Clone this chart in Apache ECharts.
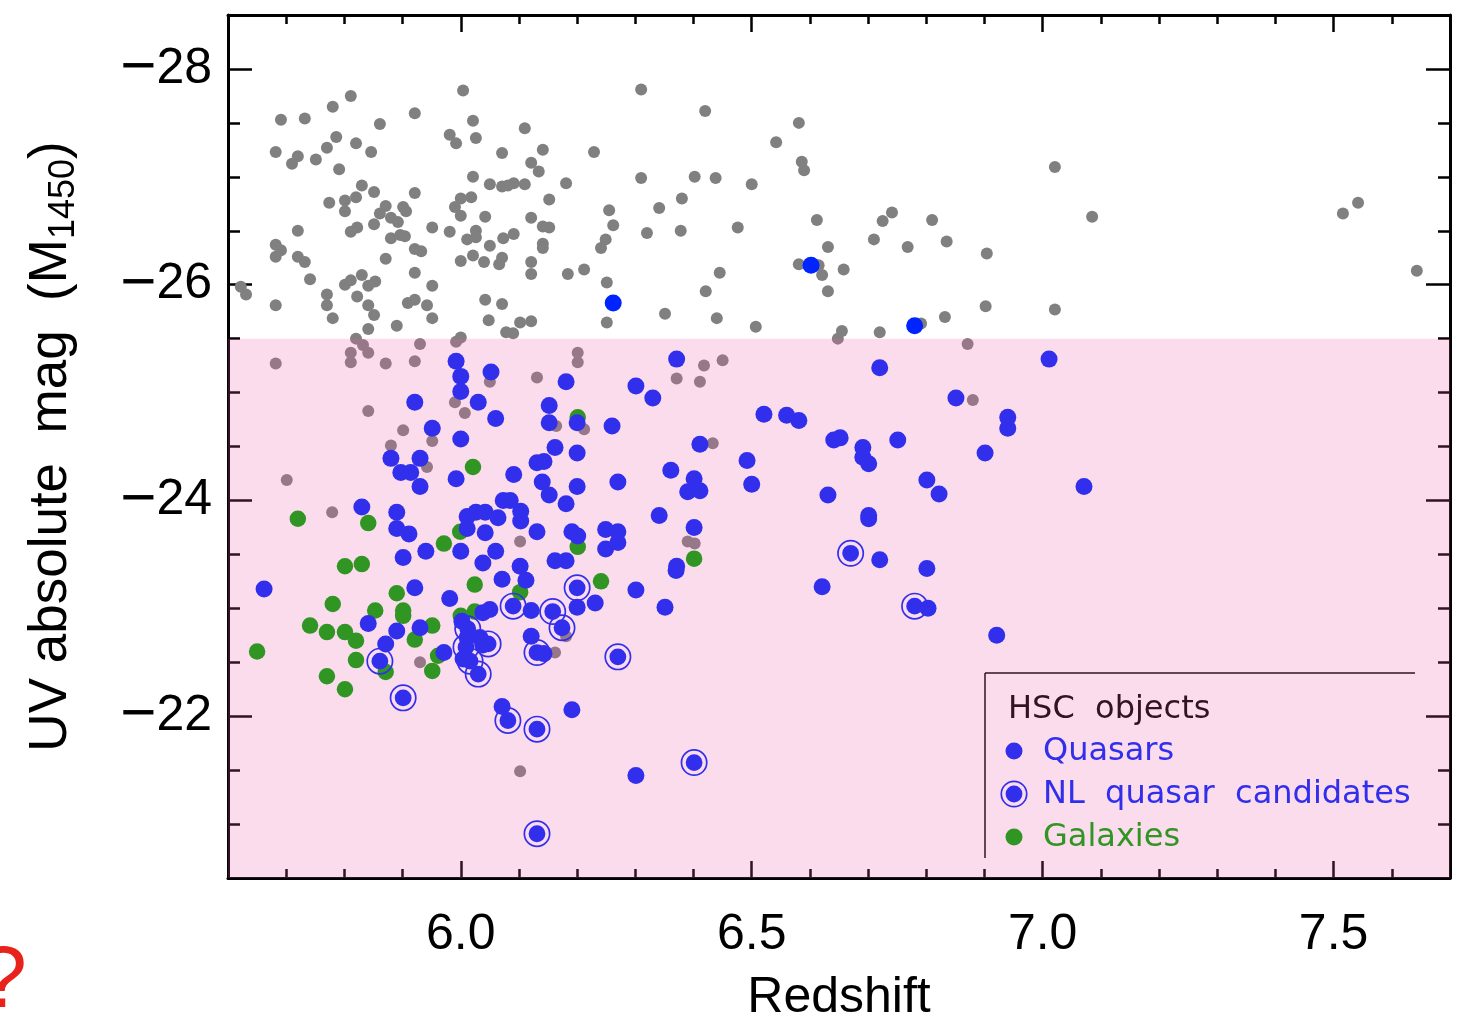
<!DOCTYPE html>
<html><head><meta charset="utf-8">
<script src="https://cdn.jsdelivr.net/npm/echarts@6/dist/echarts.min.js"></script>
<style>html,body{margin:0;padding:0;background:#fff}#chart{width:1460px;height:1019px}</style>
</head><body><div id="chart"></div>
<script>
const X_MIN = 5.6, X_MAX = 7.7, Y_MIN = -28.5, Y_MAX = -20.5;
const PINK_LIMIT = -25.5;
const xMajorTicks = [6.0, 6.5, 7.0, 7.5];
const xTickLabels = ['6.0', '6.5', '7.0', '7.5'];
const yMajorTicks = [-28, -26, -24, -22];
const yTickLabels = ['−28', '−26', '−24', '−22'];
const legendLabels = ['HSC  objects', 'Quasars', 'NL  quasar  candidates', 'Galaxies'];

const grayObjects = [
[5.811,-27.75],[5.780,-27.65],[6.004,-27.80],[5.921,-27.59],[5.691,-27.53],[5.732,-27.54],[5.861,-27.49],[6.021,-27.52],[5.786,-27.37],[5.820,-27.31],[5.981,-27.39],[5.992,-27.31],[6.026,-27.36],[5.682,-27.23],[5.720,-27.19],[5.710,-27.12],[5.751,-27.16],[5.770,-27.27],[5.846,-27.23],[5.791,-27.07],[6.021,-27.00],[5.830,-26.92],[5.851,-26.86],[5.921,-26.85],[5.820,-26.81],[5.774,-26.76],[5.801,-26.78],[5.801,-26.68],[5.871,-26.73],[5.861,-26.66],[5.901,-26.72],[5.906,-26.68],[5.880,-26.62],[5.892,-26.58],[5.990,-26.72],[6.000,-26.80],[6.018,-26.81],[6.000,-26.64],[5.851,-26.56],[5.951,-26.53],[5.981,-26.49],[6.026,-26.50],[5.720,-26.50],[5.811,-26.49],[5.822,-26.53],[5.880,-26.43],[5.896,-26.46],[5.904,-26.45],[6.011,-26.42],[6.026,-26.44],[5.682,-26.37],[5.691,-26.32],[5.682,-26.26],[5.720,-26.26],[5.732,-26.21],[5.871,-26.24],[5.921,-26.33],[5.932,-26.31],[6.000,-26.22],[6.021,-26.27],[5.741,-26.05],[5.801,-26.00],[5.811,-26.04],[5.830,-26.09],[5.841,-25.99],[5.853,-26.03],[5.921,-26.11],[5.951,-25.99],[5.622,-25.98],[5.631,-25.91],[5.682,-25.81],[5.770,-25.91],[5.770,-25.81],[5.780,-25.69],[5.822,-25.89],[5.841,-25.81],[5.851,-25.72],[5.909,-25.83],[5.921,-25.86],[5.942,-25.81],[5.951,-25.69],[5.841,-25.59],[5.890,-25.62],[6.000,-25.51],[5.820,-25.50],
[6.310,-27.81],[6.420,-27.61],[6.110,-27.45],[6.071,-27.22],[6.141,-27.25],[6.229,-27.23],[6.121,-27.13],[6.134,-27.05],[6.050,-26.93],[6.071,-26.91],[6.081,-26.92],[6.091,-26.94],[6.110,-26.93],[6.181,-26.94],[6.310,-26.99],[6.402,-27.00],[6.438,-26.99],[6.152,-26.79],[6.255,-26.69],[6.341,-26.71],[6.380,-26.80],[6.042,-26.63],[6.121,-26.62],[6.141,-26.54],[6.152,-26.53],[6.073,-26.43],[6.091,-26.47],[6.050,-26.36],[6.141,-26.38],[6.141,-26.34],[6.262,-26.55],[6.249,-26.42],[6.241,-26.34],[6.320,-26.48],[6.378,-26.50],[6.040,-26.21],[6.066,-26.19],[6.071,-26.25],[6.121,-26.21],[6.121,-26.10],[6.184,-26.10],[6.212,-26.14],[6.251,-26.02],[6.445,-26.11],[6.421,-25.94],[6.042,-25.86],[6.071,-25.82],[6.048,-25.67],[6.102,-25.65],[6.121,-25.66],[6.078,-25.56],[6.090,-25.55],[6.251,-25.65],[6.351,-25.73],[6.440,-25.69],
[6.581,-27.50],[6.542,-27.32],[6.586,-27.14],[6.590,-27.06],[6.500,-26.93],[7.021,-27.09],[6.476,-26.53],[6.612,-26.60],[6.725,-26.59],[6.741,-26.67],[6.810,-26.60],[7.085,-26.63],[7.516,-26.66],[7.542,-26.76],[6.631,-26.35],[6.710,-26.42],[6.768,-26.35],[6.835,-26.40],[6.904,-26.29],[6.581,-26.19],[6.615,-26.18],[6.621,-26.09],[6.658,-26.14],[6.631,-25.94],[7.643,-26.13],[6.507,-25.61],[6.655,-25.57],[6.648,-25.50],[6.720,-25.56],[6.791,-25.64],[6.832,-25.70],[6.902,-25.80],[7.021,-25.77],[6.871,-25.45],
[5.832,-25.44],[5.841,-25.37],[5.811,-25.37],[5.811,-25.28],[5.682,-25.27],[5.871,-25.27],[5.921,-25.29],[5.930,-25.45],[5.992,-25.47],[5.990,-24.91],[6.007,-24.81],[5.841,-24.83],[5.901,-24.65],[5.880,-24.51],[5.951,-24.55],[5.942,-24.31],[5.701,-24.19],[5.779,-23.89],[6.201,-25.37],[6.201,-25.28],[6.050,-25.10],[6.131,-25.14],[6.371,-25.13],[6.418,-25.25],[6.411,-25.10],[6.450,-25.30],[6.164,-24.69],[6.212,-24.66],[6.433,-24.53],[6.102,-23.62],[6.390,-23.62],[6.402,-23.60],[6.880,-24.93],[5.930,-22.50],[6.162,-22.59],[6.181,-22.74],[6.102,-21.49]
];

const galaxies = [
[6.021,-24.31],[5.720,-23.83],[5.841,-23.79],[5.999,-23.71],[5.971,-23.60],[5.801,-23.39],[5.830,-23.41],[6.201,-24.77],[6.201,-23.57],[6.401,-23.46],[5.780,-23.04],[5.890,-23.14],[5.853,-22.98],[5.901,-22.98],[5.901,-22.93],[5.741,-22.84],[5.770,-22.78],[5.801,-22.78],[5.820,-22.70],[5.951,-22.84],[5.921,-22.71],[5.650,-22.60],[5.820,-22.52],[5.871,-22.41],[5.951,-22.42],[5.961,-22.56],[5.770,-22.37],[5.801,-22.25],[6.024,-23.22],[6.000,-22.93],[6.024,-22.97],[6.241,-23.25],[6.102,-23.15]
];

const quasars = [
[5.992,-25.29],[6.000,-25.15],[6.000,-25.01],[5.921,-24.91],[6.030,-24.91],[5.951,-24.67],[6.000,-24.57],[5.880,-24.39],[5.930,-24.39],[5.897,-24.26],[5.914,-24.26],[5.930,-24.13],[5.992,-24.20],[5.830,-23.94],[5.890,-23.89],[5.890,-23.74],[5.911,-23.69],[6.011,-23.85],[6.026,-23.89],[6.011,-23.74],[5.940,-23.53],[6.000,-23.53],[5.901,-23.47],[6.038,-23.42],
[6.052,-25.19],[6.181,-25.10],[6.371,-25.31],[6.301,-25.06],[6.330,-24.95],[6.060,-24.76],[6.152,-24.88],[6.152,-24.72],[6.200,-24.72],[6.260,-24.69],[6.162,-24.49],[6.200,-24.44],[6.131,-24.35],[6.143,-24.36],[6.411,-24.52],[6.361,-24.28],[6.401,-24.20],[6.390,-24.08],[6.411,-24.09],[6.091,-24.24],[6.140,-24.17],[6.152,-24.05],[6.200,-24.13],[6.270,-24.17],[6.181,-23.97],[6.073,-24.00],[6.085,-24.00],[6.103,-23.90],[6.103,-23.81],[6.064,-23.84],[6.042,-23.89],[6.042,-23.70],[6.131,-23.71],[6.191,-23.71],[6.201,-23.67],[6.249,-23.73],[6.270,-23.71],[6.270,-23.61],[6.249,-23.55],[6.341,-23.86],[6.401,-23.75],[6.060,-23.53],[6.102,-23.39],[6.162,-23.44],[6.181,-23.44],[6.371,-23.39],
[5.662,-23.18],[5.921,-23.19],[5.981,-23.09],[5.841,-22.86],[5.890,-22.79],[5.930,-22.82],[5.871,-22.67],[5.971,-22.59],[6.071,-23.27],[6.112,-23.26],[6.370,-23.35],[6.301,-23.17],[6.351,-23.01],[6.121,-22.98],[6.200,-23.01],[6.231,-23.05],[6.121,-22.74],[6.143,-22.58],[6.038,-22.66],[6.071,-22.09],[6.191,-22.06],[6.301,-21.45],[6.050,-22.99],[6.011,-22.73],[6.038,-22.96],[6.033,-22.73],[6.002,-22.88],[6.004,-22.53],
[6.720,-25.23],[7.011,-25.31],[6.851,-24.95],[6.521,-24.80],[6.560,-24.79],[6.581,-24.74],[6.641,-24.56],[6.652,-24.58],[6.691,-24.49],[6.691,-24.40],[6.701,-24.34],[6.751,-24.56],[6.940,-24.77],[6.940,-24.67],[6.901,-24.44],[6.492,-24.37],[6.500,-24.15],[6.631,-24.05],[6.801,-24.19],[6.822,-24.06],[7.071,-24.13],[6.701,-23.86],[6.701,-23.83],[6.720,-23.45],[6.801,-23.37],[6.621,-23.20],[6.803,-23.00],[6.921,-22.75],
[6.262,-25.83],[6.602,-26.18],[6.780,-25.62]
];

const nlCandidates = [
[5.861,-22.51],[5.901,-22.17],[6.012,-22.81],[6.009,-22.64],[6.016,-22.51],[6.047,-22.67],[6.030,-22.39],[6.090,-23.02],[6.158,-22.97],[6.174,-22.82],[6.200,-23.19],[6.131,-22.59],[6.270,-22.55],[6.081,-21.96],[6.131,-21.88],[6.131,-20.91],[6.401,-21.57],[6.670,-23.51],[6.780,-23.02]
];

const BLUE = 'rgb(0,36,255)', GREEN = 'rgb(0,165,0)', GRAY = 'rgb(128,128,128)';
const OVERLAY = 'rgba(231,90,166,0.213)';
const AXIS_FONT = '"Liberation Sans", Arial, sans-serif';
const LEG_FONT = '"DejaVu Sans", sans-serif';
const NL_PATH = 'path://M27 13.5A13.5 13.5 0 1 1 0 13.5A13.5 13.5 0 1 1 27 13.5ZM25.3 13.5A11.8 11.8 0 1 0 1.7 13.5A11.8 11.8 0 1 0 25.3 13.5ZM21.9 13.5A8.4 8.4 0 1 1 5.1 13.5A8.4 8.4 0 1 1 21.9 13.5Z';

function nearestIdx(arr, v) { let b = 0; for (let i = 1; i < arr.length; i++) if (Math.abs(arr[i] - v) < Math.abs(arr[b] - v)) b = i; return b; }

const lineSt = { color: '#000', width: 3 };
const tickSt = { color: '#000', width: 2.5 };
function minorAxis(dim, pos) {
  const a = { type: 'value', position: pos, gridIndex: 0,
    axisLine: { show: true, onZero: false, lineStyle: lineSt },
    axisTick: { show: true, inside: true, length: dim === 'x' ? 9 : 12, lineStyle: tickSt },
    axisLabel: { show: false }, splitLine: { show: false } };
  if (dim === 'x') { a.min = X_MIN; a.max = X_MAX; a.interval = 0.1; }
  else { a.min = Y_MIN; a.max = Y_MAX; a.interval = 0.5; a.inverse = true; }
  return a;
}
function majorAxis(dim, pos, labels) {
  const vals = dim === 'x' ? xMajorTicks : yMajorTicks;
  const txt = dim === 'x' ? xTickLabels : yTickLabels;
  const fmt = dim === 'x'
    ? (v => txt[nearestIdx(vals, v)])
    : (v => { const s = txt[nearestIdx(vals, v)]; return '{m|' + s.charAt(0) + '}{d|' + s.slice(1) + '}'; });
  const a = { type: 'value', position: pos, gridIndex: 0,
    axisLine: { show: false, onZero: false },
    axisTick: { show: true, inside: true, length: dim === 'x' ? 17 : 24, customValues: vals, lineStyle: tickSt },
    axisLabel: { show: labels, customValues: vals, formatter: fmt,
      fontSize: 50, fontFamily: AXIS_FONT, color: '#000', margin: dim === 'x' ? 32 : 16,
      rich: { m: { fontSize: 62, fontFamily: AXIS_FONT, color: '#000' }, d: { fontSize: 50, fontFamily: AXIS_FONT, color: '#000' } } },
    splitLine: { show: false } };
  if (dim === 'x') { a.min = X_MIN; a.max = X_MAX; }
  else { a.min = Y_MIN; a.max = Y_MAX; a.inverse = true; }
  return a;
}

const xBottomMajor = majorAxis('x', 'bottom', true);
xBottomMajor.name = 'Redshift';
xBottomMajor.nameLocation = 'middle';
xBottomMajor.nameGap = 95;
xBottomMajor.nameTextStyle = { fontSize: 50, fontFamily: AXIS_FONT, color: '#000' };

const yLeftMajor = majorAxis('y', 'left', true);
yLeftMajor.name = '{t|UV absolute  mag  (M}{s|1450}{t|)}';
yLeftMajor.nameLocation = 'middle';
yLeftMajor.nameRotate = 90;
yLeftMajor.nameGap = 146;
yLeftMajor.nameTextStyle = { color: '#000', rich: {
  t: { fontSize: 53, fontFamily: AXIS_FONT, color: '#000', lineHeight: 62 },
  s: { fontSize: 36, fontFamily: AXIS_FONT, color: '#000', lineHeight: 36, padding: [26, 0, 0, 0] } } };

const chart = echarts.init(document.getElementById('chart'), null, { renderer: 'canvas' });
chart.setOption({
  animation: false,
  backgroundColor: '#fff',
  grid: { left: 228, right: 10, top: 15, bottom: 141, containLabel: false, outerBoundsMode: 'none' },
  xAxis: [minorAxis('x', 'bottom'), xBottomMajor, minorAxis('x', 'top'), majorAxis('x', 'top', false)],
  yAxis: [minorAxis('y', 'left'), yLeftMajor, minorAxis('y', 'right'), majorAxis('y', 'right', false)],
  series: [
    { name: 'HSC gray', type: 'scatter', xAxisIndex: 0, yAxisIndex: 0, data: grayObjects, symbol: 'circle', symbolSize: 12, itemStyle: { color: GRAY, opacity: 1 }, silent: true, z: 2 },
    { name: legendLabels[3], type: 'scatter', xAxisIndex: 0, yAxisIndex: 0, data: galaxies, symbol: 'circle', symbolSize: 16.5, itemStyle: { color: GREEN, opacity: 1 }, silent: true, z: 3 },
    { name: legendLabels[1], type: 'scatter', xAxisIndex: 0, yAxisIndex: 0, data: quasars, symbol: 'circle', symbolSize: 17, itemStyle: { color: BLUE, opacity: 1 }, silent: true, z: 4 },
    { name: legendLabels[2], type: 'scatter', xAxisIndex: 0, yAxisIndex: 0, data: nlCandidates, symbol: NL_PATH, symbolSize: 27, itemStyle: { color: BLUE, opacity: 1 }, silent: true, z: 5 },
    { name: 'pink', type: 'custom', xAxisIndex: 0, yAxisIndex: 0, z: 10, silent: true, clip: false,
      data: [[X_MIN, PINK_LIMIT, X_MAX, Y_MAX]], encode: { x: [0, 2], y: [1, 3] },
      renderItem: (params, api) => {
        const a = api.coord([api.value(0), api.value(1)]);
        const b = api.coord([api.value(2), api.value(3)]);
        return { type: 'rect', shape: { x: Math.min(a[0], b[0]), y: Math.min(a[1], b[1]), width: Math.abs(b[0] - a[0]), height: Math.abs(b[1] - a[1]) }, style: { fill: OVERLAY } };
      } }
  ],
  graphic: [
    { type: 'line', z: 1, shape: { x1: 985, y1: 673, x2: 1415, y2: 673 }, style: { stroke: '#000', lineWidth: 1.5 } },
    { type: 'line', z: 1, shape: { x1: 985, y1: 673, x2: 985, y2: 858 }, style: { stroke: '#000', lineWidth: 1.5 } },
    { type: 'text', z: 1, x: 1008, y: 710, style: { text: legendLabels[0], font: '32px ' + LEG_FONT, fill: '#000', verticalAlign: 'middle' } },
    { type: 'circle', z: 1, shape: { cx: 1014, cy: 751, r: 8.5 }, style: { fill: BLUE } },
    { type: 'text', z: 1, x: 1043, y: 752, style: { text: legendLabels[1], font: '32px ' + LEG_FONT, fill: BLUE, verticalAlign: 'middle' } },
    { type: 'circle', z: 1, shape: { cx: 1014, cy: 794, r: 12.7 }, style: { fill: 'none', stroke: BLUE, lineWidth: 1.7 } },
    { type: 'circle', z: 1, shape: { cx: 1014, cy: 794, r: 8.4 }, style: { fill: BLUE } },
    { type: 'text', z: 1, x: 1043, y: 795, style: { text: legendLabels[2], font: '32px ' + LEG_FONT, fill: BLUE, verticalAlign: 'middle' } },
    { type: 'circle', z: 1, shape: { cx: 1014, cy: 837, r: 8.5 }, style: { fill: GREEN } },
    { type: 'text', z: 1, x: 1043, y: 838, style: { text: legendLabels[3], font: '32px ' + LEG_FONT, fill: GREEN, verticalAlign: 'middle' } },
    { type: 'text', z: 1, x: -22, y: 983, style: { text: '?', font: '88px ' + AXIS_FONT, fill: '#e8231c', verticalAlign: 'middle' } }
  ]
});
</script>
</body></html>
